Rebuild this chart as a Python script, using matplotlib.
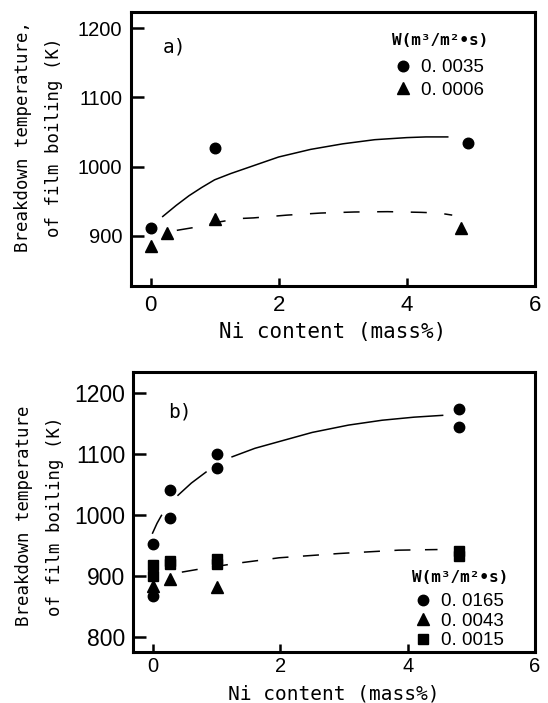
import numpy as np
import matplotlib
matplotlib.use('Agg')
from matplotlib import pyplot as plt

# panel a) W = 0.0035 (circles), 0.0006 (triangles)
a_circ_x = [0, 1.0, 4.95]
a_circ_y = [912, 1027, 1034]
a_tri_x = [0, 0.26, 1.0, 4.84]
a_tri_y = [885, 904, 924, 911]
# hand drawn trend lines
a_fit_x = [0.19, 0.4, 0.6, 0.8, 1.0, 1.25, 1.5, 1.75, 2.0, 2.5, 3.0, 3.5, 4.0, 4.3, 4.64]
a_fit_y = [928, 944, 958, 970, 981, 990, 998, 1006, 1014, 1025, 1033, 1039, 1042, 1043, 1043]
a_dash_x = [0.41, 0.67, 1.0, 1.38, 1.61, 2.13, 2.66, 3.18, 3.70, 4.22, 4.5, 4.71]
a_dash_y = [908, 912, 919, 925, 926, 930, 933, 934.5, 935, 934, 933, 930]

# panel b) W = 0.0165 (circles), 0.0043 (triangles), 0.0015 (squares)
b_circ_x = [0, 0, 0.26, 0.26, 1.0, 1.0, 4.81, 4.81]
b_circ_y = [953, 868, 1042, 995, 1100, 1077, 1174, 1145]
b_tri_x = [0, 0.26, 1.0]
b_tri_y = [884, 896, 882]
b_sq_x = [0, 0, 0.26, 0.26, 1.0, 1.0, 4.81, 4.81]
b_sq_y = [919, 901, 926, 921, 928, 921, 942, 933]
b_fit_x = [-0.01, 0.06, 0.13, np.nan, 0.39, 0.6, 0.83, np.nan,
           1.24, 1.6, 1.98, 2.5, 3.07, 3.6, 4.1, 4.55]
b_fit_y = [971, 987, 1000, np.nan, 1033, 1053, 1071, np.nan,
           1096, 1110, 1121, 1136, 1148, 1156, 1161, 1164]
b_dash_x = [0.45, 0.70, 1.28, 1.98, 2.92, 3.86, 4.47]
b_dash_y = [907, 911.5, 921, 930.5, 937.5, 943, 944]

mono = ['DejaVu Sans Mono']
sans = ['Liberation Sans', 'DejaVu Sans']
xlab = 'Ni content (mass%)'

fig = plt.figure(figsize=(5.48, 7.03), dpi=100)
ax1 = fig.add_axes([0.2385, 0.5936, 0.7375, 0.3898])
ax2 = fig.add_axes([0.2436, 0.0725, 0.7324, 0.3983])


def style(ax, ysize, xsize, xpad):
    for s in ax.spines.values():
        s.set_linewidth(2.2)
    ax.tick_params(axis='y', direction='in', length=9, width=1.8, pad=6,
                   right=False, labelsize=ysize)
    ax.tick_params(axis='x', direction='in', length=6, width=1.8, pad=xpad,
                   top=False, labelsize=xsize)
    for lab in ax.get_xticklabels() + ax.get_yticklabels():
        lab.set_family(sans)
    ax.set_xlim(-0.31, 6.0)
    ax.set_xticks([0, 2, 4, 6])


# --- a)
c1, = ax1.plot(a_circ_x, a_circ_y, 'o', color='black', ms=7.6, label='0. 0035', zorder=3)
t1, = ax1.plot(a_tri_x, a_tri_y, '^', color='black', ms=8, label='0. 0006', zorder=3)
ax1.plot(a_fit_x, a_fit_y, '-', color='black', lw=1.1)
ax1.plot(a_dash_x, a_dash_y, color='black', lw=1.1, linestyle=(0, (10.5, 11.5)))
ax1.set_ylim(828, 1224)
ax1.set_yticks([900, 1000, 1100, 1200])
style(ax1, 14.5, 16, 7)
ax1.set_ylabel('Breakdown temperature,\nof film boiling (K)', family=mono, fontsize=12.5,
               linespacing=1.9, va='center', ha='center')
ax1.yaxis.set_label_coords(-0.228, 0.543)
ax1.set_xlabel(xlab, family=mono, fontsize=15, va='center')
ax1.xaxis.set_label_coords(0.5, -0.169)
ax1.text(0.08, 0.871, 'a)', transform=ax1.transAxes, family=mono, fontsize=14,
         va='center', ha='left')
leg1 = ax1.legend(handles=[c1, t1], loc='upper center', bbox_to_anchor=(0.765, 0.922),
                  frameon=False, borderpad=0, handlelength=0.8, handletextpad=0.6,
                  labelspacing=0.28, borderaxespad=0, title='W(m³/m²•s)',
                  prop={'family': sans, 'size': 13.5},
                  title_fontproperties={'family': mono, 'size': 11.5, 'weight': 'bold'})
leg1._legend_box.sep = 8

# --- b)
c2, = ax2.plot(b_circ_x, b_circ_y, 'o', color='black', ms=7.5, label='0. 0165', zorder=3)
t2, = ax2.plot(b_tri_x, b_tri_y, '^', color='black', ms=8, label='0. 0043', zorder=3)
s2, = ax2.plot(b_sq_x, b_sq_y, 's', color='black', ms=6.5, label='0. 0015', zorder=3)
ax2.plot(b_fit_x, b_fit_y, '-', color='black', lw=1.1)
ax2.plot(b_dash_x, b_dash_y, color='black', lw=1.1, linestyle=(0, (10.5, 9.5)))
ax2.set_ylim(776, 1235)
ax2.set_yticks([800, 900, 1000, 1100, 1200])
style(ax2, 16.5, 14.5, 3.5)
ax2.set_ylabel('Breakdown temperature\nof film boiling (K)', family=mono, fontsize=12.5,
               linespacing=1.9, va='center', ha='center')
ax2.yaxis.set_label_coords(-0.234, 0.486)
ax2.set_xlabel(xlab, family=mono, fontsize=14, va='bottom')
ax2.xaxis.set_label_coords(0.5, -51.0 / 280)
ax2.text(0.086, 0.857, 'b)', transform=ax2.transAxes, family=mono, fontsize=14,
         va='center', ha='left')
leg2 = ax2.legend(handles=[c2, t2, s2], loc='upper center', bbox_to_anchor=(0.813, 0.293),
                  frameon=False, borderpad=0, handlelength=0.8, handletextpad=0.56,
                  labelspacing=0.12, borderaxespad=0, title='W(m³/m²•s)',
                  prop={'family': sans, 'size': 13.5},
                  title_fontproperties={'family': mono, 'size': 11.5, 'weight': 'bold'})
leg2._legend_box.sep = 6

fig.savefig('out.png', dpi=100)
